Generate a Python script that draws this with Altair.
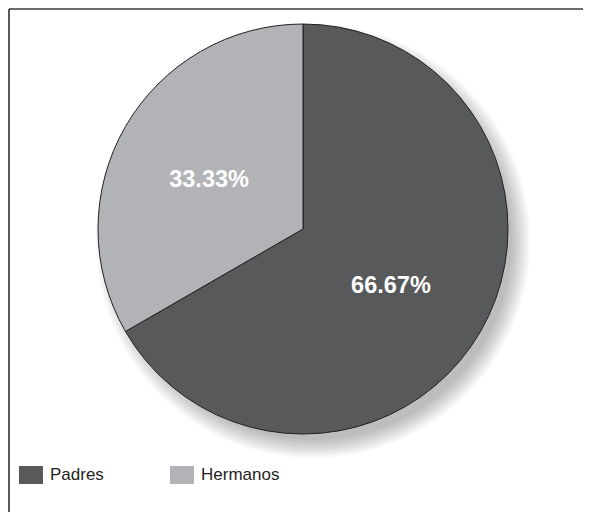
import altair as alt
import pandas as pd

categories = ["Padres", "Hermanos"]
values = [66.67, 33.33]
labels = ["66.67%", "33.33%"]
colors = ["#58595b", "#b1b3b6"]

W, H = 575, 504
CX, CY, R = 295, 221, 205

df = pd.DataFrame({"category": categories, "value": values, "label": labels,
                   "order": list(range(len(categories)))})

one = pd.DataFrame({"v": [1]})
shadow_layers = [
    alt.Chart(one).mark_arc(color="#000000", opacity=0.028, theta=0, theta2=6.2832,
                            outerRadius=R - 6 + 2 * i).encode(
        x=alt.value(CX + 10), y=alt.value(CY + 12),
    )
    for i in range(10)
]

base = alt.Chart(df).encode(
    theta=alt.Theta("value:Q", stack=True),
    order=alt.Order("order:Q"),
)

arcs = base.mark_arc(outerRadius=R, stroke="#231f20", strokeWidth=1).encode(
    color=alt.Color("category:N", sort=categories,
                    scale=alt.Scale(domain=categories, range=colors),
                    legend=alt.Legend(
                        title=None, orient="none", legendX=11, legendY=455,
                        direction="horizontal", columns=2,
                        symbolType="M-1,-0.75H1V0.75H-1Z", symbolSize=576,
                        symbolStrokeWidth=0, symbolOpacity=1,
                        labelFont="Liberation Sans", labelFontSize=17,
                        labelColor="#231f20", labelOffset=7,
                        columnPadding=66, padding=0,
                    )),
    x=alt.value(CX), y=alt.value(CY),
)

text = base.mark_text(radius=105, fontSize=23.5, fontWeight="bold",
                      font="Liberation Sans", dx=-3, dy=4).encode(
    text="label:N", color=alt.value("white"),
    x=alt.value(CX), y=alt.value(CY),
)

top_line = alt.Chart(df).mark_rule(color="#3a3a3a", strokeWidth=1.2).encode(
    x=alt.value(1), x2=alt.value(W), y=alt.value(1))
left_line = alt.Chart(df).mark_rule(color="#3a3a3a", strokeWidth=1.2).encode(
    x=alt.value(1), y=alt.value(1), y2=alt.value(H))

chart = alt.layer(*shadow_layers, arcs, text, top_line, left_line).properties(
    width=W, height=H, padding=0, autosize=alt.AutoSizeParams(type="none"),
).configure(background="#ffffff").configure_view(strokeWidth=0)

chart.save("out.html", embed_options={"renderer": "svg", "actions": False})
